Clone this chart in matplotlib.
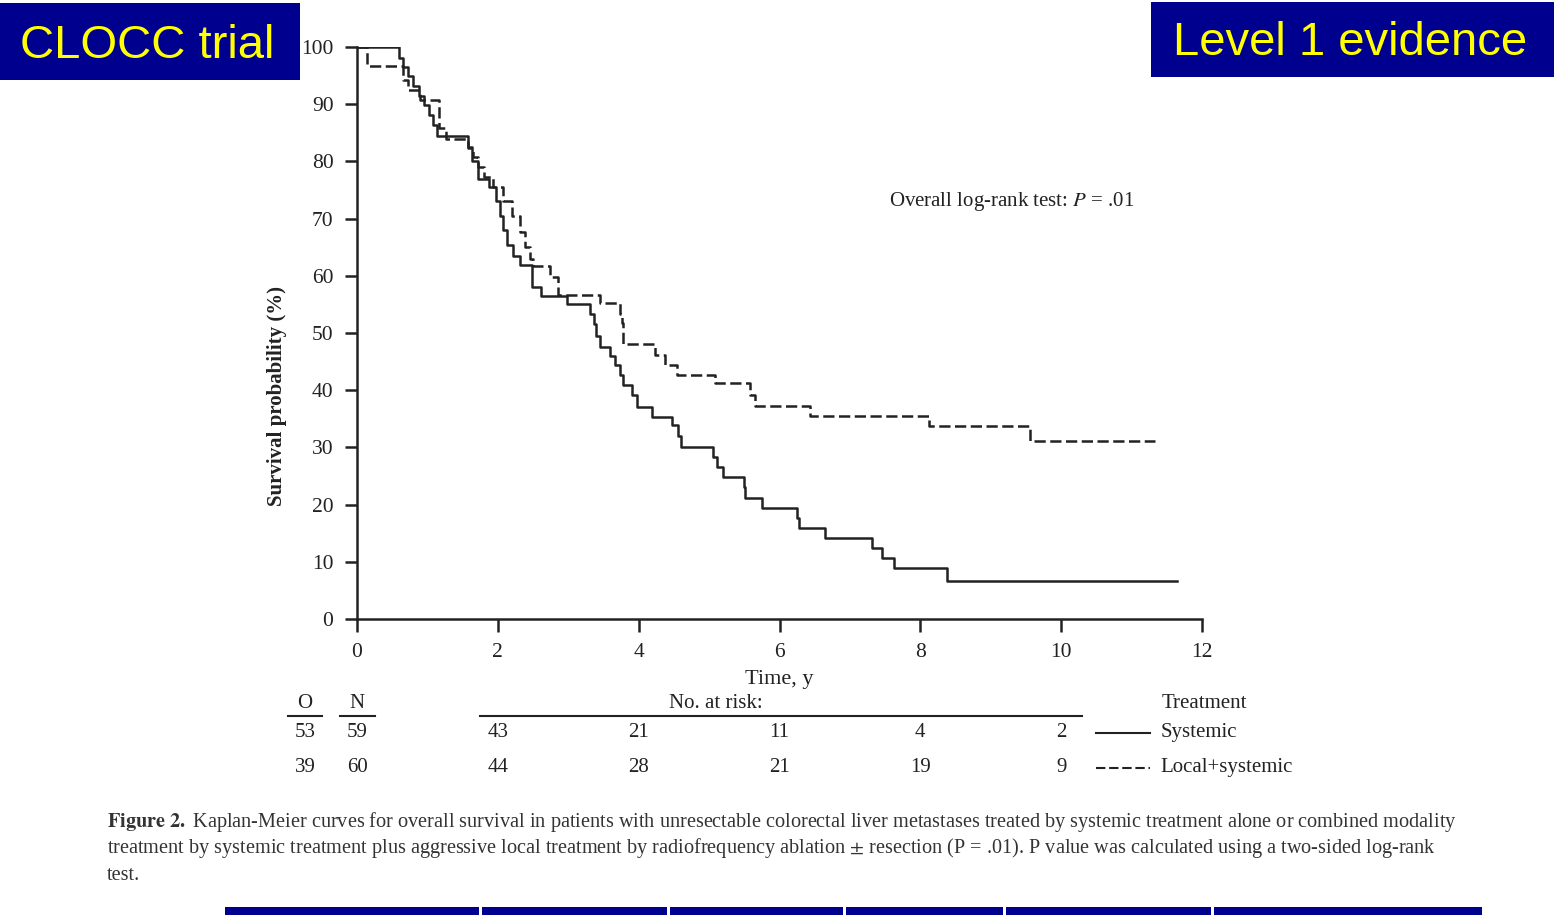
import numpy as np
import matplotlib
matplotlib.use("Agg")
import matplotlib.pyplot as plt
from matplotlib.patches import Rectangle

plt.rcParams['font.family'] = ['Liberation Serif', 'DejaVu Serif']
plt.rcParams['mathtext.fontset'] = 'stix'

# Systemic treatment (solid) - step points
sys_t = [0, 0.60, 0.66, 0.72, 0.80, 0.88, 0.95, 1.02, 1.08, 1.13, 1.58, 1.63, 1.72, 1.88,
         1.98, 2.03, 2.08, 2.13, 2.22, 2.32, 2.48, 2.62, 2.98, 3.31, 3.36, 3.40, 3.45, 3.59,
         3.66, 3.73, 3.78, 3.90, 3.98, 4.19, 4.47, 4.56, 4.60, 5.06, 5.11, 5.20, 5.49, 5.51,
         5.75, 6.25, 6.27, 6.65, 7.31, 7.45, 7.62, 8.38, 11.65]
sys_s = [100, 98.0, 96.5, 94.9, 93.2, 91.5, 89.8, 88.1, 86.4, 84.5, 82.6, 80.0, 77.0, 75.6,
         73.0, 70.5, 68.0, 65.4, 63.5, 61.9, 58.1, 56.5, 55.0, 53.4, 51.5, 49.4, 47.6, 45.9,
         44.4, 42.6, 40.9, 39.2, 37.1, 35.4, 33.9, 32.0, 30.1, 28.4, 26.6, 24.9, 23.1, 21.1,
         19.4, 17.6, 15.9, 14.1, 12.4, 10.6, 8.9, 6.6, 6.6]

# Local + systemic treatment (dashed)
loc_t = [0, 0.14, 0.66, 0.73, 0.89, 1.16, 1.27, 1.58, 1.65, 1.72, 1.80, 1.93, 2.08, 2.20,
         2.32, 2.39, 2.46, 2.50, 2.74, 2.86, 3.45, 3.74, 3.76, 3.78, 4.23, 4.37, 4.54, 5.08,
         5.58, 5.65, 6.43, 8.12, 9.56, 11.33]
loc_s = [100, 96.7, 94.2, 92.5, 90.7, 85.8, 84.0, 82.4, 80.7, 79.0, 77.3, 75.6, 73.0, 70.5,
         67.7, 65.0, 63.0, 61.8, 59.8, 56.6, 55.2, 53.4, 51.7, 48.0, 46.2, 44.4, 42.7, 41.2,
         39.2, 37.3, 35.5, 33.8, 31.1, 31.1]

risk_times = [2, 4, 6, 8, 10]
risk_sys = [43, 21, 11, 4, 2]
risk_loc = [44, 28, 21, 19, 9]
obs = [53, 39]
num = [59, 60]
groups = ["Systemic", "Local+systemic"]

caption = [
    r"$\mathbf{Figure\ 2.}$ Kaplan-Meier curves for overall survival in patients with unresectable colorectal liver metastases treated by systemic treatment alone or combined modality",
    r"treatment by systemic treatment plus aggressive local treatment by radiofrequency ablation $\pm$ resection (P = .01). P value was calculated using a two-sided log-rank",
    "test.",
]

fig = plt.figure(figsize=(15.54, 9.15), dpi=100)
ax = fig.add_axes([357 / 1554, 1 - 619 / 915, 845 / 1554, 572 / 915])

ink = "#222222"
dash = (0, (4.5, 1.8))
ax.step(sys_t, sys_s, where="post", color=ink, lw=1.8)
ax.step(loc_t, loc_s, where="post", color=ink, lw=1.8, linestyle=dash)

ax.set_xlim(0, 12)
ax.set_ylim(0, 100)
ax.set_xticks(range(0, 13, 2))
ax.set_yticks(range(0, 101, 10))
for s in ["top", "right"]:
    ax.spines[s].set_visible(False)
for s in ["left", "bottom"]:
    ax.spines[s].set_linewidth(1.8)
    ax.spines[s].set_color(ink)
ax.tick_params(length=9, width=1.8, color=ink, labelsize=15.5, pad=8, labelcolor=ink)

ax.set_xlabel("Time, y", fontsize=16, color=ink, labelpad=6)
ax.set_ylabel("Survival probability (%)", fontsize=15, color=ink, fontweight="bold")
ax.yaxis.set_label_coords(-0.083, 0.39)

ax.text(9.3, 73.0, r"Overall log-rank test: $\it{P}$ = .01", fontsize=15, color=ink,
        ha="center", va="center")

# number at risk table (data coordinates, outside the axes)
kw = dict(fontsize=15, color=ink, ha="center", va="center", clip_on=False)
y_head, y_line, y_r1, y_r2 = -14.7, -17.0, -19.9, -26.0
ax.text(-0.74, y_head, "O", **kw)
ax.text(0.0, y_head, "N", **kw)
ax.plot([-0.98, -0.50], [y_line, y_line], color=ink, lw=1.5, clip_on=False)
ax.plot([-0.24, 0.25], [y_line, y_line], color=ink, lw=1.5, clip_on=False)
ax.text(5.09, y_head, "No. at risk:", **kw)
ax.plot([1.75, 10.3], [y_line, y_line], color=ink, lw=1.5, clip_on=False)
ax.text(12.03, y_head, "Treatment", **kw)

for yy, o, n, risk, g, ls in zip([y_r1, y_r2], obs, num, [risk_sys, risk_loc], groups,
                                 ["-", dash]):
    ax.text(-0.74, yy, str(o), **kw)
    ax.text(0.0, yy, str(n), **kw)
    for t, r in zip(risk_times, risk):
        ax.text(t, yy, str(r), **kw)
    ax.plot([10.5, 11.26], [yy, yy], color=ink, lw=1.5, linestyle=ls, clip_on=False)
    ax.text(11.41, yy, g, fontsize=15, color=ink, ha="left", va="center", clip_on=False)

# caption
for i, line in enumerate(caption):
    fig.text(107 / 1554, 1 - (822 + 26.5 * i) / 915, line, fontsize=14.6, color="#333333",
             ha="left", va="center")

# header boxes
blue = "#00008f"
fig.patches.append(Rectangle((0, 1 - 80 / 915), 300 / 1554, 77 / 915, transform=fig.transFigure,
                             facecolor=blue, edgecolor="none"))
fig.text(147 / 1554, 1 - 46 / 915, "CLOCC trial", fontsize=34, color="#ffff00",
         family="Liberation Sans", ha="center", va="center")
fig.patches.append(Rectangle((1151 / 1554, 1 - 77 / 915), 403 / 1554, 75 / 915,
                             transform=fig.transFigure, facecolor=blue, edgecolor="none"))
fig.text(1350 / 1554, 1 - 43 / 915, "Level 1 evidence", fontsize=34, color="#ffff00",
         family="Liberation Sans", ha="center", va="center")

# strip of a table at the bottom edge
edges = [225, 482, 670, 846, 1006, 1214, 1485]
for a, b in zip(edges[:-1], edges[1:]):
    fig.patches.append(Rectangle((a / 1554, 0), (b - a - 3) / 1554, 8 / 915,
                                 transform=fig.transFigure, facecolor=blue, edgecolor="none"))

fig.savefig("out.png", dpi=100)
